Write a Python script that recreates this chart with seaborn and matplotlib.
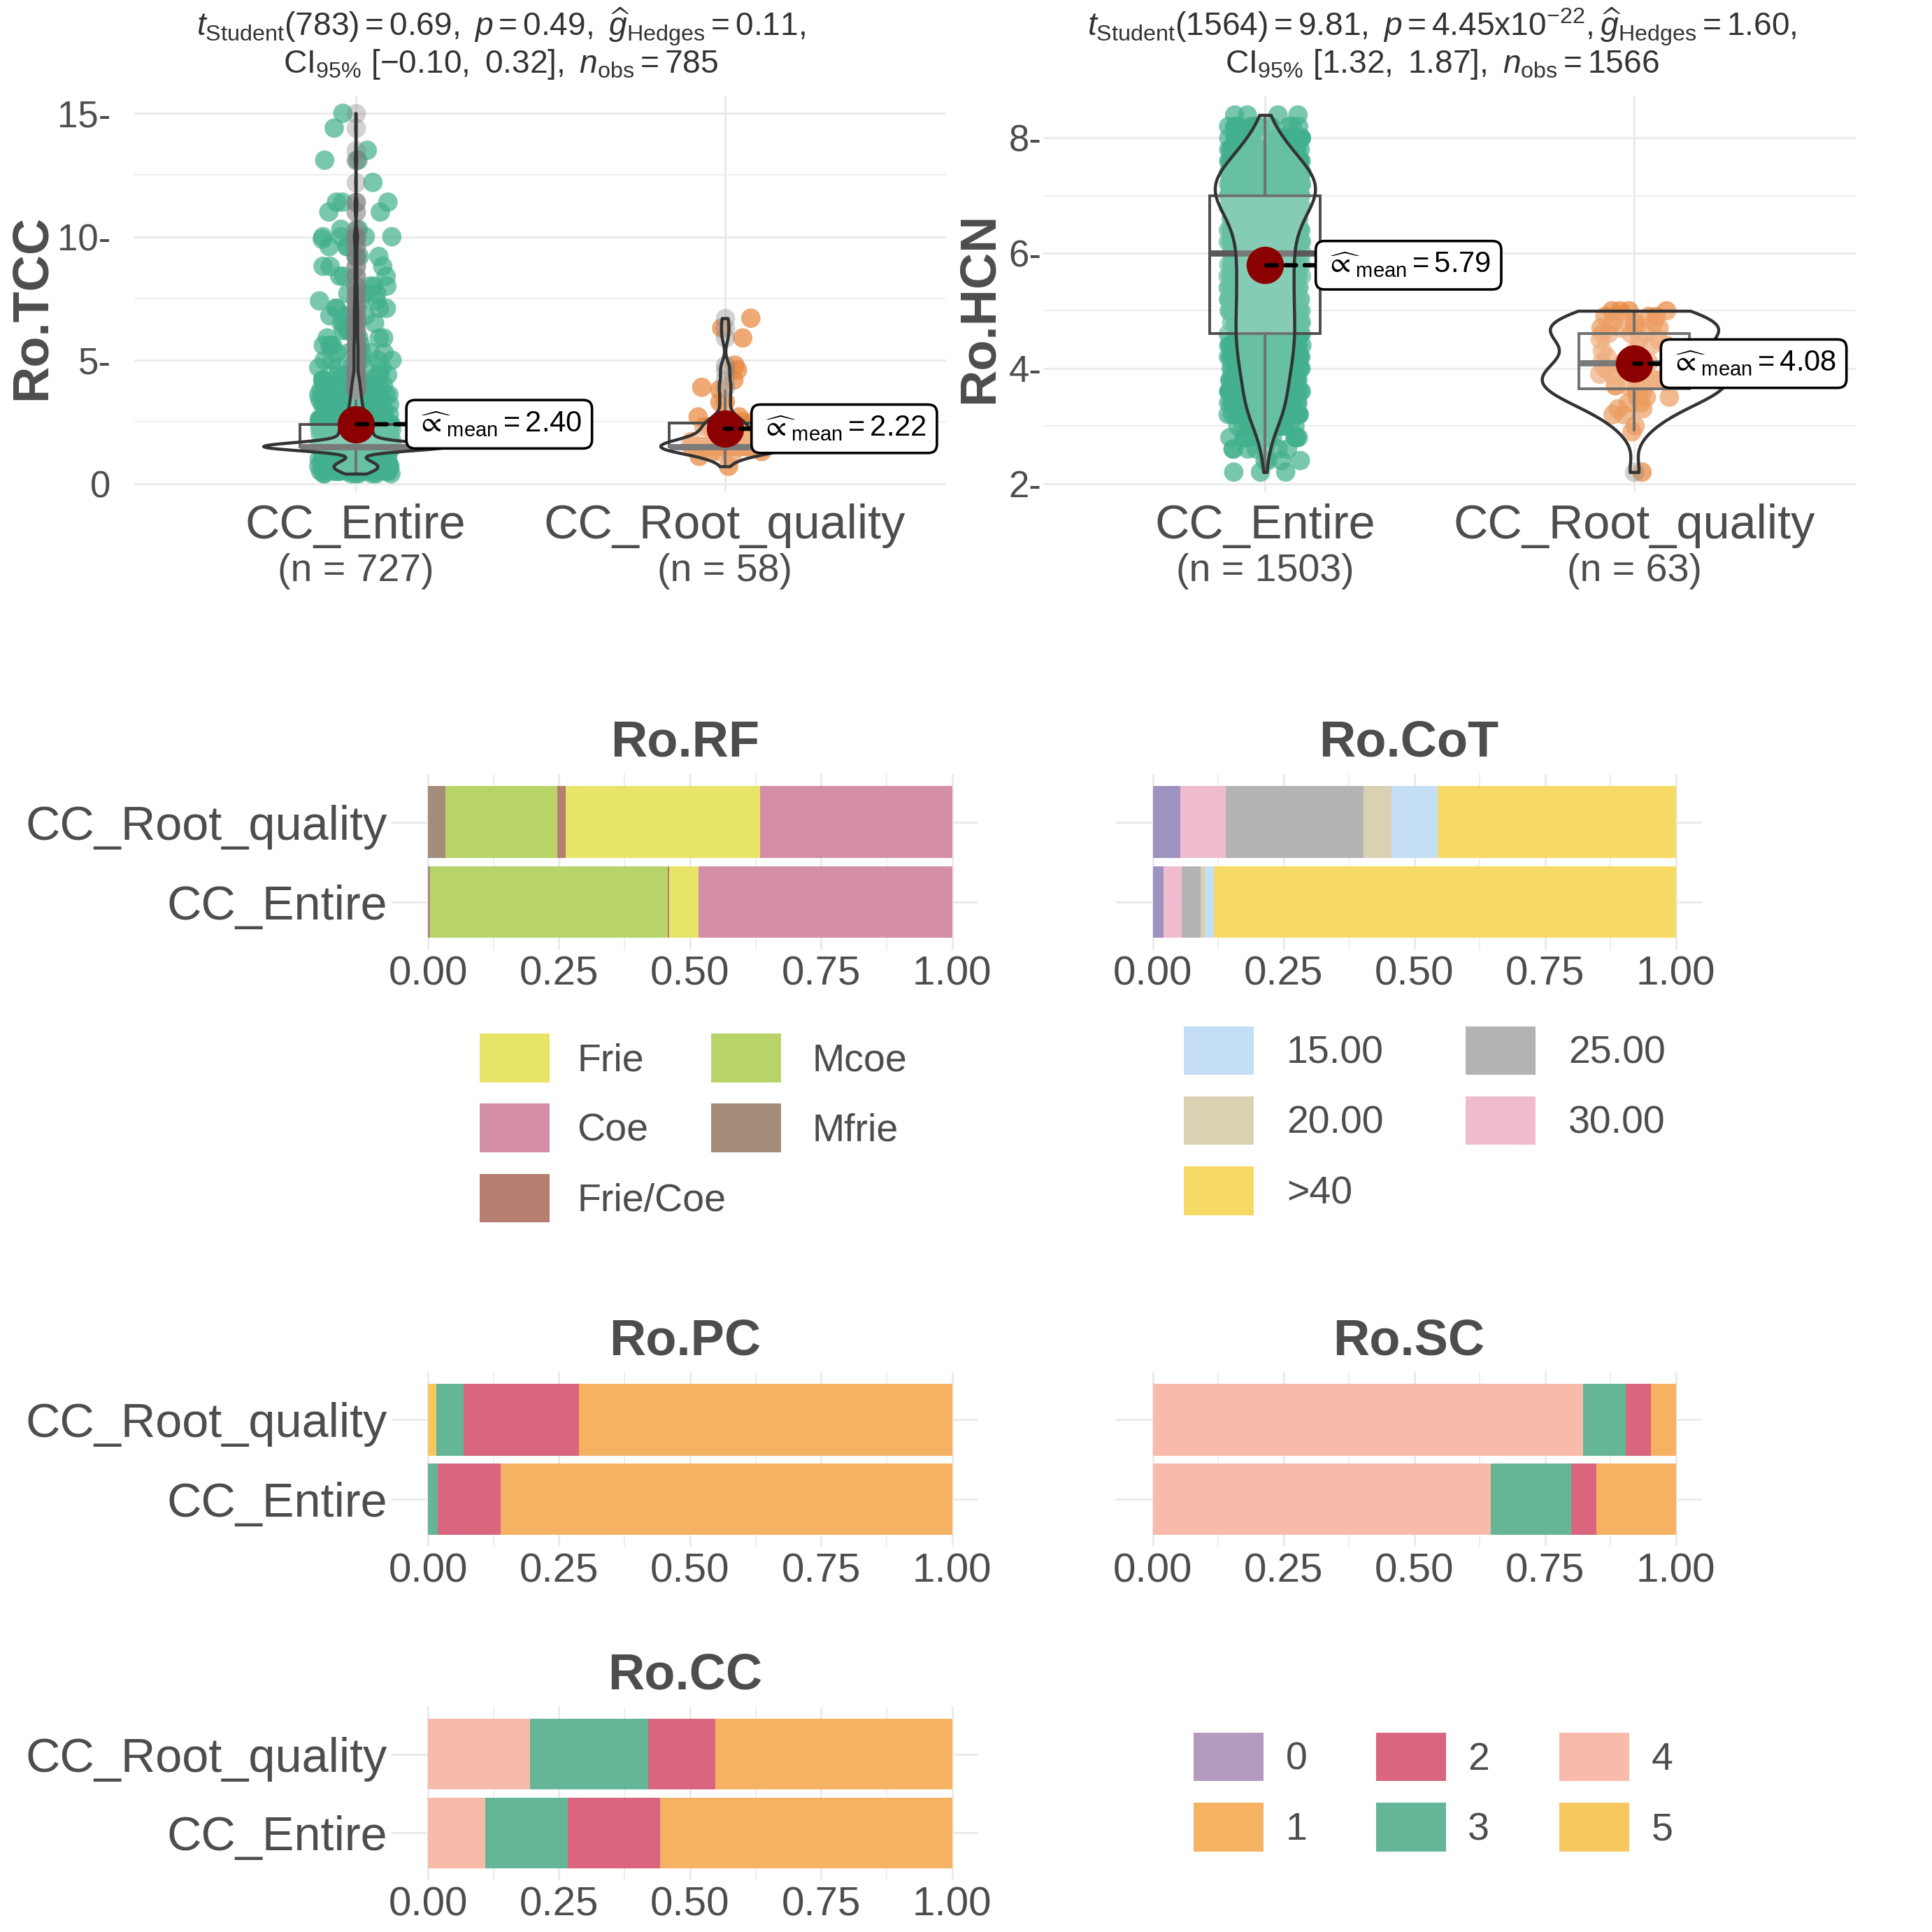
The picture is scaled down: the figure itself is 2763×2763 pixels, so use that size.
import numpy as np
import pandas as pd
import matplotlib
matplotlib.use("Agg")
import matplotlib.pyplot as plt
from matplotlib.patches import Patch
import seaborn as sns

sns.set_style("white")
plt.rcParams['font.family'] = ['Liberation Sans', 'DejaVu Sans']
plt.rcParams['mathtext.fontset'] = 'custom'
plt.rcParams['mathtext.rm'] = 'Liberation Sans'
plt.rcParams['mathtext.it'] = 'Liberation Sans:italic'
plt.rcParams['mathtext.bf'] = 'Liberation Sans:bold'
plt.rcParams['mathtext.fallback'] = 'stixsans'

# ---------------- data ----------------
groups = ["CC_Entire", "CC_Root_quality"]
group_colors = ["#42B08E", "#E8853A"]

# Ro.TCC (value levels and how many observations sit at each level)
tcc_entire_values = [0.4, 0.5, 0.6, 0.7, 0.8, 0.9, 1.0, 1.2, 1.3, 1.5, 1.6, 1.8, 2.0, 2.2, 2.4,
                     2.6, 2.8, 3.0, 3.2, 3.4, 3.6, 3.8, 4.0, 4.2, 4.4, 4.7, 5.0, 5.3, 5.6, 5.9,
                     6.2, 6.5, 6.8, 7.1, 7.4, 7.7, 8.0, 8.4, 8.8, 9.2, 9.6, 9.9, 10.0, 10.3, 11.0,
                     11.4, 12.2, 13.1, 13.5, 14.4, 15.0]
tcc_entire_counts = [8, 16, 22, 24, 20, 14, 8, 4, 4, 284, 30, 30, 30, 28, 27,
                     16, 14, 13, 11, 10, 9, 8, 7, 6, 5, 5, 5, 5, 5, 4,
                     4, 4, 4, 4, 3, 3, 3, 3, 3, 3, 3, 1, 4, 2, 2,
                     3, 1, 2, 1, 1, 1]
tcc_root_values = [0.7, 1.1, 1.3, 1.5, 1.7, 1.9, 2.1, 2.3, 2.5, 2.7, 3.3, 3.8, 3.9, 4.2, 4.6,
                   4.8, 5.9, 6.3, 6.7]
tcc_root_counts = [1, 2, 3, 24, 3, 3, 3, 4, 3, 2, 2, 1, 1, 1, 1, 1, 1, 1, 1]

# Ro.HCN
hcn_entire_values = [2.2, 2.4, 2.6, 2.8, 3.0, 3.2, 3.4, 3.6, 3.8, 4.0, 4.2, 4.4, 4.6, 4.8, 5.0, 5.2,
                     5.4, 5.6, 5.8, 6.0, 6.2, 6.4, 6.6, 6.8, 7.0, 7.2, 7.4, 7.6, 7.8, 8.0, 8.2, 8.4]
hcn_entire_counts = [3, 4, 7, 11, 23, 35, 40, 39, 43, 47, 51, 53, 54, 55, 52, 52,
                     52, 52, 52, 52, 52, 59, 67, 81, 104, 104, 94, 65, 47, 33, 16, 4]
hcn_root_values = [2.2, 2.9, 3.0, 3.2, 3.3, 3.4, 3.5, 3.6, 3.7, 3.8, 3.9, 4.0, 4.1, 4.2, 4.3,
                   4.4, 4.5, 4.6, 4.7, 4.8, 4.9, 5.0]
hcn_root_counts = [1, 1, 1, 2, 2, 2, 3, 4, 4, 4, 4, 3, 4, 2, 2, 2, 3, 4, 4, 4, 3, 4]

tcc_subtitle = [r"$t_{\mathrm{Student}}(783) = 0.69,\ p = 0.49,\ \widehat{g}_{\mathrm{Hedges}} = 0.11,$",
                r"$\mathrm{CI}_{95\%}\ [-0.10,\ 0.32],\ n_{\mathrm{obs}} = 785$"]
hcn_subtitle = [r"$t_{\mathrm{Student}}(1564) = 9.81,\ p = 4.45\mathrm{x}10^{-22},\widehat{g}_{\mathrm{Hedges}} = 1.60,$",
                r"$\mathrm{CI}_{95\%}\ [1.32,\ 1.87],\ n_{\mathrm{obs}} = 1566$"]

# stacked proportion bars (levels in factor order; drawn right-to-left)
rf_levels = ["Coe", "Frie", "Frie/Coe", "Mcoe", "Mfrie"]
rf_colors = ["#D48EA8", "#E8E468", "#B57E70", "#B8D468", "#A38C78"]
rf_entire = [0.484, 0.056, 0.002, 0.454, 0.004]
rf_root = [0.367, 0.370, 0.016, 0.214, 0.033]

cot_levels = [">40", "15.00", "20.00", "25.00", "30.00", "NA"]
cot_colors = ["#F7DA65", "#C3DEF5", "#D9D1B1", "#B3B3B3", "#F0BBCF", "#9E92C0"]
cot_entire = [0.883, 0.017, 0.009, 0.035, 0.036, 0.020]
cot_root = [0.455, 0.088, 0.054, 0.263, 0.087, 0.053]

score_levels = ["0", "1", "2", "3", "4", "5"]
score_colors = ["#B49ABF", "#F5B262", "#D9657F", "#64B696", "#F8BBAB", "#F8C860"]
pc_entire = [0.0, 0.862, 0.119, 0.019, 0.0, 0.0]
pc_root = [0.0, 0.712, 0.220, 0.052, 0.0, 0.016]
sc_entire = [0.0, 0.152, 0.048, 0.153, 0.647, 0.0]
sc_root = [0.0, 0.048, 0.047, 0.082, 0.823, 0.0]
cc_entire = [0.0, 0.557, 0.176, 0.158, 0.109, 0.0]
cc_root = [0.0, 0.452, 0.128, 0.226, 0.194, 0.0]

# ---------------- helpers ----------------
GRID = "#EBEBEB"
TXT = "#4D4D4D"
D = 1570.0
fig = plt.figure(figsize=(2763 / 200, 2763 / 200), dpi=200)


def add_ax(l, t, r, b):
    return fig.add_axes([l / D, 1 - b / D, (r - l) / D, (b - t) / D])


def make_df(ve, ce, vr, cr):
    vals = np.concatenate([np.repeat(ve, ce), np.repeat(vr, cr)])
    grp = [groups[0]] * int(np.sum(ce)) + [groups[1]] * int(np.sum(cr))
    return pd.DataFrame({"group": grp, "value": vals})


def nrd0(kde):
    x = np.asarray(kde.dataset).ravel()
    sd = x.std(ddof=1)
    q75, q25 = np.percentile(x, [75, 25])
    lo = min(sd, (q75 - q25) / 1.34)
    if lo <= 0:
        lo = sd
    return 0.9 * lo * len(x) ** -0.2 / sd


def violin_panel(ax, df, ylabel, yticks, yticklabels, yminor, ylim, label_dx, ylab_x, tick_pad):
    np.random.seed(7)
    sns.stripplot(data=df, x="group", y="value", order=groups, hue="group", hue_order=groups,
                  palette=group_colors, jitter=0.1, size=10, alpha=0.7, linewidth=0,
                  legend=False, ax=ax, zorder=1)
    npatch, nline = len(ax.patches), len(ax.lines)
    sns.boxplot(data=df, x="group", y="value", order=groups, width=0.3, color="white",
                linecolor="#4D4D4D", linewidth=1.4, showcaps=False,
                flierprops=dict(marker="o", markersize=10, markerfacecolor="#808080",
                                markeredgecolor="none", alpha=0.35),
                medianprops=dict(color="#595959", linewidth=3.2), ax=ax)
    for p in ax.patches[npatch:]:
        p.set_facecolor((1, 1, 1, 0.2))
        p.set_zorder(2)
    for ln in ax.lines[nline:]:
        ln.set_zorder(2)
    ncoll = len(ax.collections)
    sns.violinplot(data=df, x="group", y="value", order=groups, width=0.5, cut=0, inner=None,
                   bw_method=nrd0, gridsize=512, density_norm="area", color="white",
                   linecolor="#333333", linewidth=1.6, ax=ax)
    for c in ax.collections[ncoll:]:
        c.set_facecolor((1, 1, 1, 0.2))
        c.set_zorder(3)
    means = df.groupby("group")["value"].mean().reindex(groups).values
    ax.scatter(range(len(groups)), means, s=370, color="#8B0000", zorder=5, linewidths=0)
    for i, m in enumerate(means):
        ax.annotate(r"$\widehat{\propto}_{\mathrm{mean}} = %.2f$" % m, xy=(i, m),
                    xytext=(i + label_dx[i], m), ha="left", va="center", fontsize=15,
                    color="black", zorder=6,
                    bbox=dict(boxstyle="round,pad=0.35,rounding_size=0.3", fc="white",
                              ec="black", lw=1.3),
                    arrowprops=dict(arrowstyle="-", color="black", lw=2.2,
                                    linestyle=(0, (2.5, 2)), shrinkA=0, shrinkB=0))
    ax.set_xlim(-0.6, 1.6)
    ax.set_ylim(*ylim)
    ax.set_yticks(yticks)
    ax.set_yticklabels(yticklabels)
    ax.set_yticks(yminor, minor=True)
    ax.set_xticks([0, 1])
    ax.set_xticklabels(["", ""])
    ax.tick_params(axis="both", which="both", length=0)
    ax.tick_params(axis="y", labelsize=19, labelcolor=TXT, pad=tick_pad)
    ax.grid(which="major", color=GRID, lw=1.1)
    ax.grid(which="minor", axis="y", color=GRID, lw=0.6)
    ax.set_axisbelow(True)
    for s in ax.spines.values():
        s.set_visible(False)
    ax.set_xlabel("")
    ax.set_ylabel(ylabel, fontsize=26, fontweight="bold", color=TXT)
    ax.yaxis.set_label_coords(ylab_x, 0.466)
    tr = ax.get_xaxis_transform()
    counts = df["group"].value_counts().reindex(groups).values
    for i, g in enumerate(groups):
        ax.text(i, -0.085, g, transform=tr, ha="center", va="center", fontsize=24.6, color=TXT)
        ax.text(i, -0.2, "(n = %d)" % counts[i], transform=tr, ha="center", va="center",
                fontsize=20, color=TXT)


def stacked_panel(ax, levels, colors, entire, root, title, show_y):
    df = pd.DataFrame({"group": [groups[0]] * len(levels) + [groups[1]] * len(levels),
                       "level": levels + levels, "prop": entire + root})
    sns.histplot(data=df, y="group", hue="level", hue_order=levels, weights="prop",
                 multiple="fill", discrete=True, shrink=0.9, palette=dict(zip(levels, colors)),
                 alpha=1, linewidth=0, legend=False, ax=ax)
    ax.set_xlim(-0.07, 1.05)
    ax.set_ylim(-0.6, 1.6)
    ax.set_xticks([0, 0.25, 0.5, 0.75, 1.0])
    ax.set_xticklabels(["0.00", "0.25", "0.50", "0.75", "1.00"])
    ax.set_xticks([0.125, 0.375, 0.625, 0.875], minor=True)
    ax.set_yticks([0, 1])
    ax.set_yticklabels(groups if show_y else ["", ""])
    ax.tick_params(axis="both", which="both", length=0)
    ax.tick_params(axis="x", labelsize=21, labelcolor=TXT, pad=3)
    ax.tick_params(axis="y", labelsize=24.6, labelcolor=TXT, pad=2)
    ax.grid(which="major", color=GRID, lw=1.1)
    ax.grid(which="minor", axis="x", color=GRID, lw=0.6)
    ax.set_axisbelow(True)
    for s in ax.spines.values():
        s.set_visible(False)
    ax.set_xlabel("")
    ax.set_ylabel("")
    ax.set_title(title, fontsize=26, fontweight="bold", color=TXT, pad=9)


def column_legend(names, colors, left, top, pad):
    handles = [Patch(facecolor=c, edgecolor="none", label=n) for n, c in zip(names, colors)]
    fig.legend(handles=handles, loc="upper left", bbox_to_anchor=(left / D, 1 - top / D),
               frameon=False, fontsize=20, handlelength=1.8, handleheight=1.55,
               labelspacing=0.55, handletextpad=pad, borderpad=0, borderaxespad=0,
               labelcolor=TXT)


# ---------------- top panels ----------------
tcc_df = make_df(tcc_entire_values, tcc_entire_counts, tcc_root_values, tcc_root_counts)
hcn_df = make_df(hcn_entire_values, hcn_entire_counts, hcn_root_values, hcn_root_counts)

ax1 = add_ax(109, 78, 769, 400)
violin_panel(ax1, tcc_df, "Ro.TCC", [0, 5, 10, 15], ["0", "5-", "10-", "15-"],
             [2.5, 7.5, 12.5], (-0.35, 15.7), [0.165, 0.1], -0.097, 12)
ax2 = add_ax(848, 78, 1508, 400)
violin_panel(ax2, hcn_df, "Ro.HCN", [2, 4, 6, 8], ["2-", "4-", "6-", "8-"],
             [3, 5, 7], (1.85, 8.73), [0.165, 0.1], -0.05, 1)

for x, lines in [(407, tcc_subtitle), (1172, hcn_subtitle)]:
    fig.text(x / D, 1 - 22 / D, lines[0], ha="center", va="center", fontsize=16.6, color="#333333")
    fig.text(x / D, 1 - 52 / D, lines[1], ha="center", va="center", fontsize=16.6, color="#333333")

# ---------------- bar panels ----------------
ax_rf = add_ax(318, 629, 795, 772)
stacked_panel(ax_rf, rf_levels, rf_colors, rf_entire, rf_root, "Ro.RF", True)
ax_cot = add_ax(907, 629, 1383, 772)
stacked_panel(ax_cot, cot_levels, cot_colors, cot_entire, cot_root, "Ro.CoT", False)
ax_pc = add_ax(318, 1115, 795, 1257)
stacked_panel(ax_pc, score_levels, score_colors, pc_entire, pc_root, "Ro.PC", True)
ax_sc = add_ax(907, 1115, 1383, 1257)
stacked_panel(ax_sc, score_levels, score_colors, sc_entire, sc_root, "Ro.SC", False)
ax_cc = add_ax(318, 1387, 795, 1528)
stacked_panel(ax_cc, score_levels, score_colors, cc_entire, cc_root, "Ro.CC", True)

# ---------------- legends ----------------
rf_col = dict(zip(rf_levels, rf_colors))
column_legend(["Frie", "Coe", "Frie/Coe"], [rf_col[k] for k in ["Frie", "Coe", "Frie/Coe"]], 390, 840, 0.7)
column_legend(["Mcoe", "Mfrie"], [rf_col[k] for k in ["Mcoe", "Mfrie"]], 578, 840, 0.8)

cot_col = dict(zip(cot_levels, cot_colors))
column_legend(["15.00", "20.00", ">40"], [cot_col[k] for k in ["15.00", "20.00", ">40"]], 962, 834, 0.85)
column_legend(["25.00", "30.00"], [cot_col[k] for k in ["25.00", "30.00"]], 1191, 834, 0.85)

sc_col = dict(zip(score_levels, score_colors))
for left, pair in [(970, ["0", "1"]), (1118, ["2", "3"]), (1267, ["4", "5"])]:
    column_legend(pair, [sc_col[k] for k in pair], left, 1408, 0.57)

fig.savefig("out.png", dpi=200, facecolor="white")
